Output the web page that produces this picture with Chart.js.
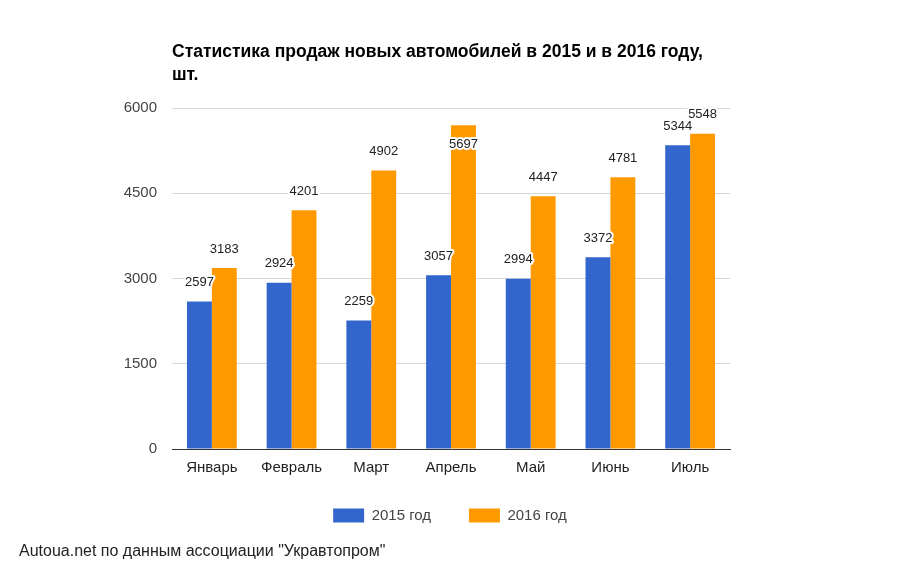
<!DOCTYPE html>
<html>
<head>
<meta charset="utf-8">
<script src="https://cdn.jsdelivr.net/npm/chart.js@4/dist/chart.umd.min.js"></script>
<style>
  html, body { margin: 0; padding: 0; background: #fff; }
  #wrap { width: 900px; height: 572px; }
</style>
</head>
<body>
<div id="wrap"><canvas id="salesChart"></canvas></div>
<script>
const months = ['Январь', 'Февраль', 'Март', 'Апрель', 'Май', 'Июнь', 'Июль'];
const sales2015 = [2597, 2924, 2259, 3057, 2994, 3372, 5344];
const sales2016 = [3183, 4201, 4902, 5697, 4447, 4781, 5548];
const yTicks = [0, 1500, 3000, 4500, 6000];

const titleLines = ['Статистика продаж новых автомобилей в 2015 и в 2016 году,', 'шт.'];
const sourceText = 'Autoua.net по данным ассоциации "Укравтопром"';

Chart.defaults.font.family = '"Liberation Sans", Arial, sans-serif';

// подписи значений над столбцами + заголовок и источник
const extras = {
    id: 'extras',
    afterDatasetsDraw(chart) {
        const ctx = chart.ctx;
        const area = chart.chartArea;
        ctx.save();
        ctx.font = '13px "Liberation Sans", Arial, sans-serif';
        ctx.textAlign = 'center';
        ctx.textBaseline = 'middle';
        ctx.lineJoin = 'round';
        chart.data.datasets.forEach((ds, i) => {
            chart.getDatasetMeta(i).data.forEach((bar, j) => {
                let y = bar.y - 19;
                if (y < area.top) y = bar.y + 19; // не помещается сверху - внутрь столбца
                const txt = String(ds.data[j]);
                ctx.lineWidth = 4;
                ctx.strokeStyle = '#fff';
                ctx.strokeText(txt, bar.x, y);
                ctx.fillStyle = '#222';
                ctx.fillText(txt, bar.x, y);
            });
        });

        ctx.textAlign = 'left';
        ctx.textBaseline = 'alphabetic';
        ctx.fillStyle = '#000';
        ctx.font = 'bold 17.5px "Liberation Sans", Arial, sans-serif';
        ctx.fillText(titleLines[0], area.left, 57);
        ctx.fillText(titleLines[1], area.left, 80);

        ctx.font = '16px "Liberation Sans", Arial, sans-serif';
        ctx.fillStyle = '#222';
        ctx.fillText(sourceText, 19, 556);
        ctx.restore();
    }
};

new Chart(document.getElementById('salesChart').getContext('2d'), {
    type: 'bar',
    data: {
        labels: months,
        datasets: [
            { label: '2015 год', data: sales2015, backgroundColor: '#3366cc' },
            { label: '2016 год', data: sales2016, backgroundColor: '#ff9900' }
        ]
    },
    options: {
        responsive: true,
        maintainAspectRatio: false,
        animation: false,
        categoryPercentage: 0.625,
        barPercentage: 1,
        layout: { padding: { left: 0, right: 0, top: 108, bottom: 39 } },
        plugins: {
            title: { display: false },
            tooltip: { enabled: false },
            legend: {
                position: 'bottom',
                labels: {
                    boxWidth: 31,
                    boxHeight: 14,
                    padding: 17,
                    color: '#444',
                    font: { size: 15 },
                    // лишний отступ после первого пункта, как в оригинале
                    generateLabels: chart => {
                        const items = Chart.defaults.plugins.legend.labels.generateLabels(chart);
                        items[0].text += '     ';
                        return items;
                    }
                }
            }
        },
        scales: {
            x: {
                grid: { display: false, drawTicks: false },
                border: { display: true, color: '#333', width: 1 },
                ticks: { color: '#222', font: { size: 15 }, padding: 10 },
                afterFit: s => { s.height = 42; }
            },
            y: {
                min: 0,
                max: 6000,
                afterBuildTicks: s => { s.ticks = yTicks.map(v => ({ value: v })); },
                grid: { color: '#d6d6d6', drawTicks: false },
                border: { display: false },
                ticks: { color: '#444', font: { size: 15 }, padding: 15, callback: v => String(v) },
                afterFit: s => { s.width = 172; }
            },
            // пустая ось справа, чтобы легенда была по центру холста
            yRight: {
                position: 'right',
                grid: { display: false, drawTicks: false },
                border: { display: false },
                ticks: { display: false },
                afterFit: s => { s.width = 170; }
            }
        }
    },
    plugins: [extras]
});
</script>
</body>
</html>
